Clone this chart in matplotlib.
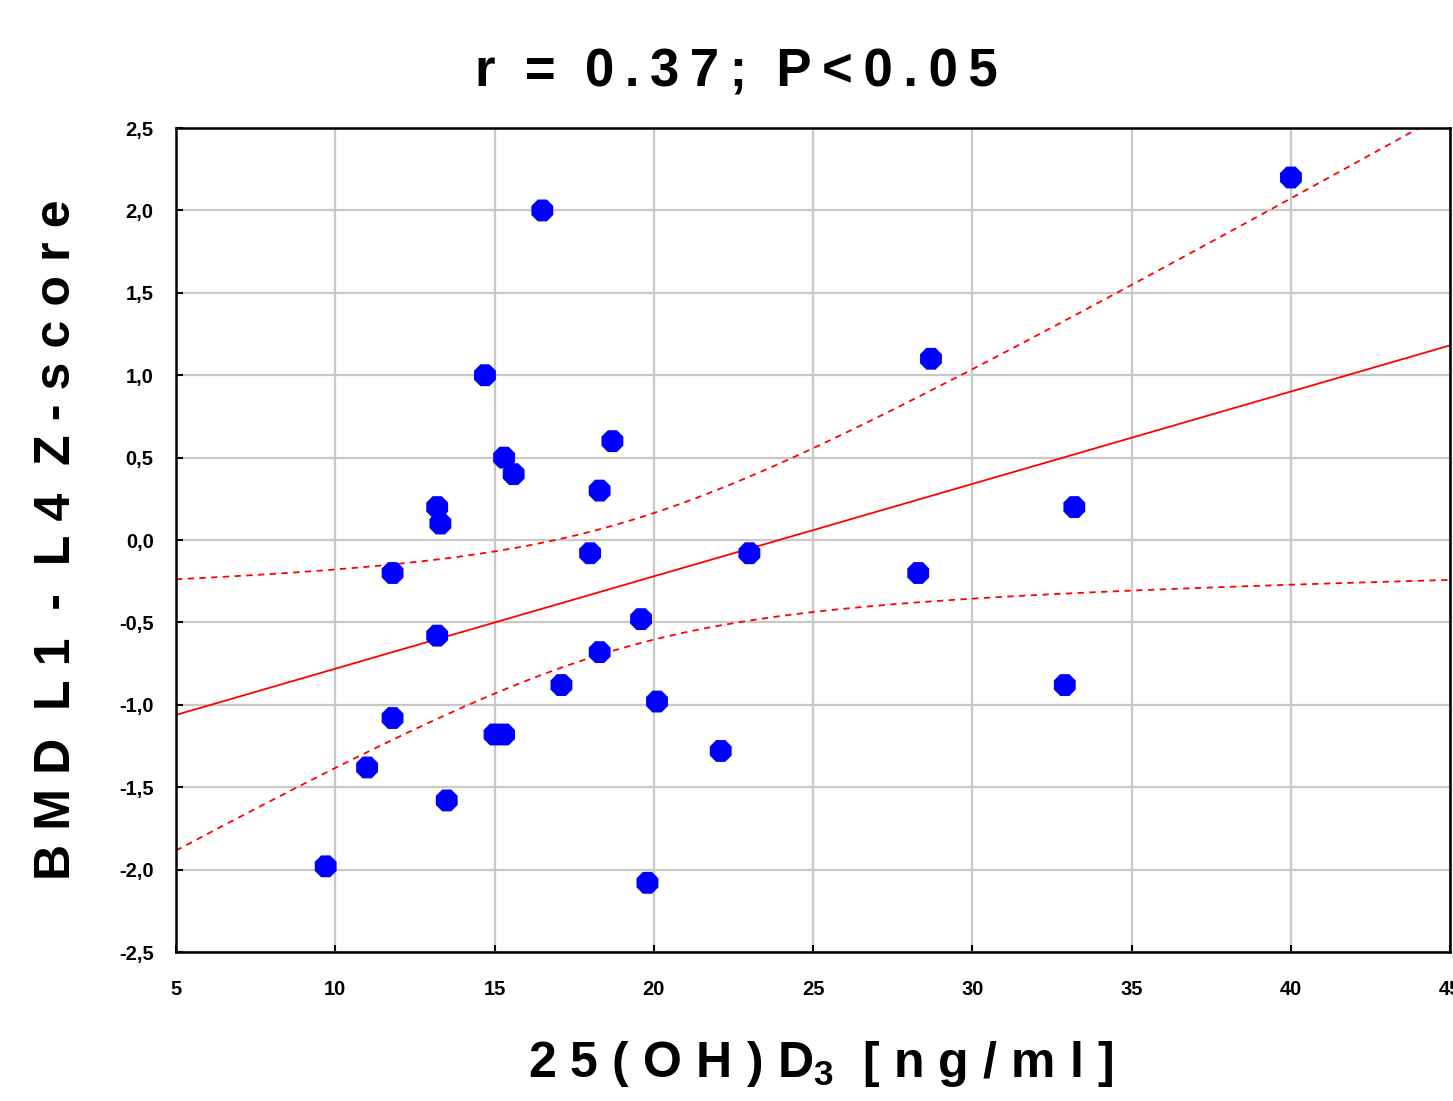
import numpy as np
import matplotlib
matplotlib.use("Agg")
import matplotlib.pyplot as plt

plt.rcParams["font.family"] = ["Liberation Sans", "DejaVu Sans"]
plt.rcParams["font.weight"] = "bold"
plt.rcParams["mathtext.fontset"] = "custom"
plt.rcParams["mathtext.rm"] = "Liberation Sans:bold"
plt.rcParams["mathtext.default"] = "rm"

# 25(OH)D3 [ng/ml] vs BMD L1-L4 Z-score
vit_d = [16.5, 40.0, 28.7, 14.7, 15.3, 15.6, 18.7, 18.3, 13.2, 13.3,
         18.0, 23.0, 33.2, 11.8, 28.3, 19.6, 13.2, 18.3, 17.1, 32.9,
         20.1, 11.8, 15.0, 15.3, 22.1, 11.0, 13.5, 9.7, 19.8]
z_score = [2.0, 2.2, 1.1, 1.0, 0.5, 0.4, 0.6, 0.3, 0.2, 0.1,
           -0.08, -0.08, 0.2, -0.2, -0.2, -0.48, -0.58, -0.68, -0.88, -0.88,
           -0.98, -1.08, -1.18, -1.18, -1.28, -1.38, -1.58, -1.98, -2.08]

x_ticks = [5, 10, 15, 20, 25, 30, 35, 40, 45]
y_ticks = [-2.5, -2.0, -1.5, -1.0, -0.5, 0.0, 0.5, 1.0, 1.5, 2.0, 2.5]
T_95 = 2.052  # t(0.975, df=27)

x = np.array(vit_d)
y = np.array(z_score)
n = len(x)
slope, icpt = np.polyfit(x, y, 1)
resid = y - (slope * x + icpt)
s = np.sqrt(np.sum(resid ** 2) / (n - 2))
sxx = np.sum((x - x.mean()) ** 2)
xs = np.linspace(5, 45, 200)
fit = slope * xs + icpt
half = T_95 * s * np.sqrt(1.0 / n + (xs - x.mean()) ** 2 / sxx)

fig = plt.figure(figsize=(14.53, 11.01), dpi=100)
ax = fig.add_axes([0.1211, 0.1353, 0.877, 0.7484])

ax.grid(True, color="#c8c8c8", linewidth=1.6, zorder=0)
ax.plot(xs, fit, color="red", linewidth=1.3, zorder=2)
ax.plot(xs, fit + half, color="red", linewidth=1.3, linestyle=(0, (3.5, 3)), zorder=2)
ax.plot(xs, fit - half, color="red", linewidth=1.3, linestyle=(0, (3.5, 3)), zorder=2)
ax.scatter(x, y, s=290, marker="8", color="blue", edgecolors="none", zorder=3)

ax.set_xlim(5, 45)
ax.set_ylim(-2.5, 2.5)
ax.set_xticks(x_ticks)
ax.set_yticks(y_ticks)
ax.set_xticklabels([str(v) for v in x_ticks])
ax.set_yticklabels([f"{v:.1f}".replace(".", ",") for v in y_ticks])
ax.tick_params(direction="in", length=5, width=1.5, labelsize=14.5)
ax.tick_params(axis="x", pad=20)
ax.tick_params(axis="y", pad=16)
for lab in ax.get_xticklabels() + ax.get_yticklabels():
    lab.set_fontweight("bold")
for sp in ax.spines.values():
    sp.set_linewidth(1.8)

fig.text(0.507, 0.934, "r  =  0\u2009.\u20093\u20097\u2009;  P\u2009<\u20090\u2009.\u20090\u20095",
         fontsize=38, fontweight="bold", ha="center", va="center")
sp2 = "\u2009\u200a"
ax.set_xlabel(sp2.join("25(OH)") + sp2 + "D$_{3}$  " + sp2.join("[ng/ml]"),
              fontsize=36, fontweight="bold", labelpad=38)
ax.xaxis.set_label_coords(0.506, -0.105)
ylab = "  ".join(sp2.join(w) for w in ["BMD", "L1", "-", "L4", "Z-score"])
ax.set_ylabel(ylab, fontsize=36, fontweight="bold", labelpad=28)

fig.savefig("out.png", dpi=100)
